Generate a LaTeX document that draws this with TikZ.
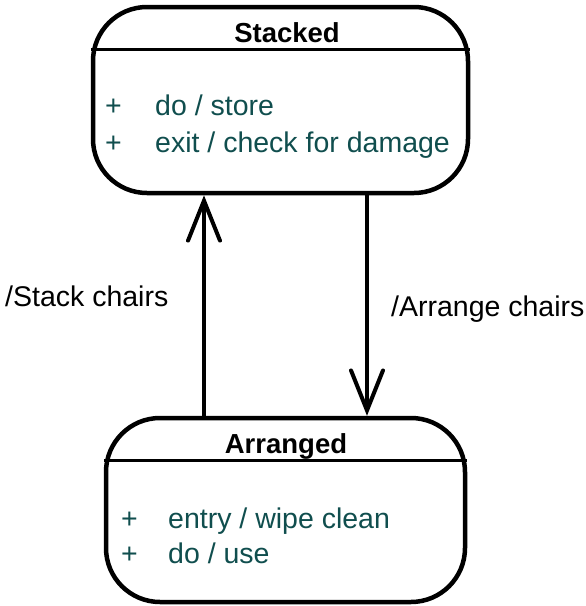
\documentclass[tikz,border=0pt]{standalone}
\usepackage{fontspec}
\setmainfont{Liberation Sans}
\usepackage{tikz}
\usetikzlibrary{arrows.meta,calc}

\definecolor{acttext}{RGB}{16,78,78}

\begin{document}
\begin{tikzpicture}[x=1pt,y=-1pt,
  statebox/.style={draw,line width=4.5pt,rounded corners=54pt,inner sep=0pt},
  divider/.style={line width=3pt},
  trans/.style={line width=4pt,-{Straight Barb[length=40pt,width=32pt,line cap=round]}},
  title/.style={font=\fontsize{27.5}{32}\selectfont\bfseries,anchor=base,inner sep=0pt},
  act/.style={font=\fontsize{28.5}{32}\selectfont,text=acttext,anchor=base west,inner sep=0pt},
  lbl/.style={font=\fontsize{28.5}{32}\selectfont,anchor=base west,inner sep=0pt}]
\useasboundingbox (0,0) rectangle (586,606);

% States
\node[statebox,minimum width=375pt,minimum height=186pt] (stacked) at (280.5,100) {};
\node[statebox,minimum width=359pt,minimum height=184pt] (arranged) at (285.5,510) {};
\draw[divider] ([yshift=-45pt]stacked.north west) -- ([yshift=-45pt]stacked.north east);
\draw[divider] ([yshift=-45pt]arranged.north west) -- ([yshift=-45pt]arranged.north east);

% Titles
\node[title] (stackedname) at (287,42) {Stacked};
\node[title] (arrangedname) at (286,453) {Arranged};

% Activities
\node[act] (sp1) at (105,115) {+};
\node[act] (sa1) at (155,115) {do / store};
\node[act] (sp2) at (105,152) {+};
\node[act] (sa2) at (155,152) {exit / check for damage};
\node[act] (ap1) at (121,528) {+};
\node[act] (aa1) at (168,528) {entry / wipe clean};
\node[act] (ap2) at (121,563) {+};
\node[act] (aa2) at (168,563) {do / use};

% Transitions
\draw[trans] ([xshift=-81.5pt]arranged.north) -- ([xshift=-76.5pt]stacked.south);
\draw[trans] ([xshift=86.5pt]stacked.south) -- ([xshift=81.5pt]arranged.north);

% Labels
\node[lbl] (stacklbl) at (5,306) {/Stack chairs};
\node[lbl] (arrangelbl) at (391,316) {/Arrange chairs};
\end{tikzpicture}
\end{document}
